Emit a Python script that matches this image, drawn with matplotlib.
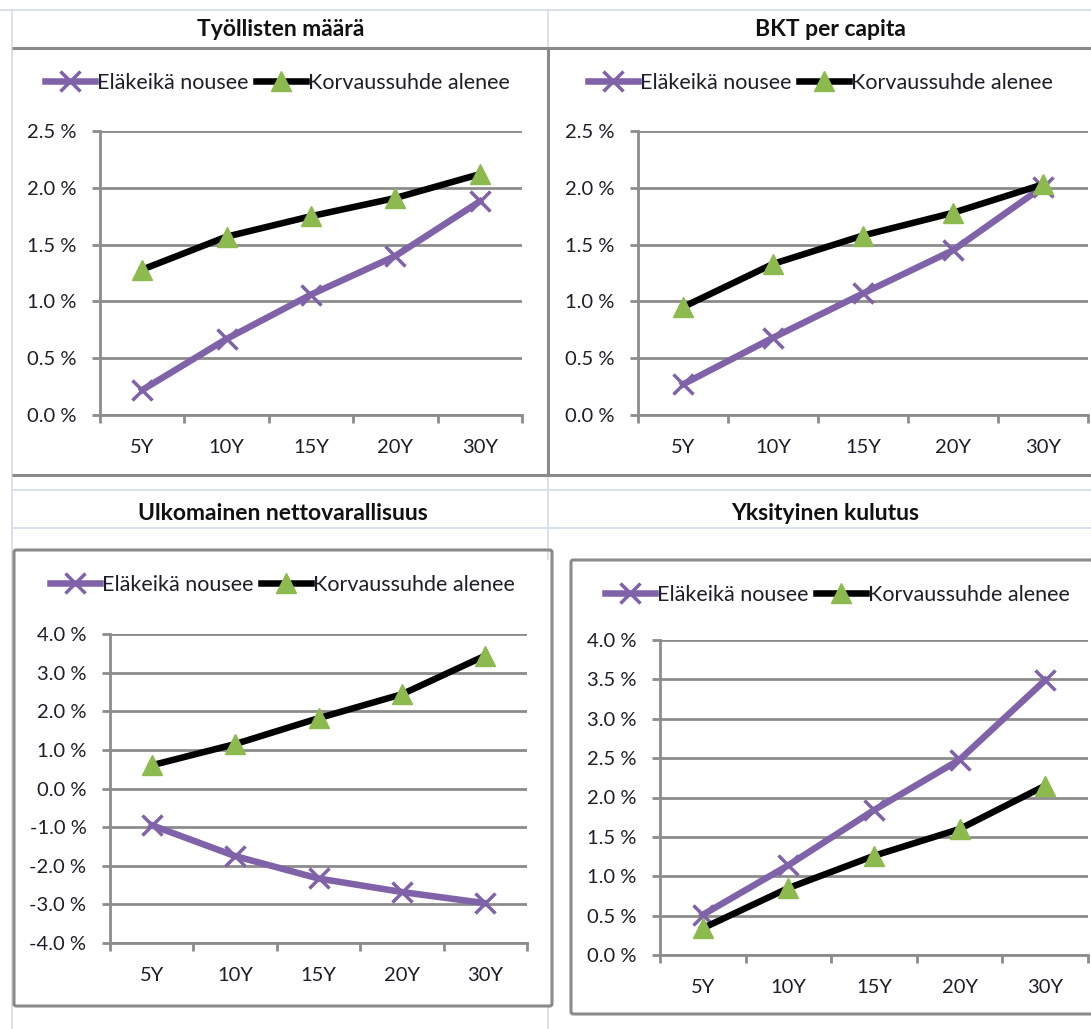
import matplotlib
matplotlib.use("Agg")
import matplotlib.pyplot as plt
from matplotlib.lines import Line2D
from matplotlib.patches import FancyBboxPatch
import numpy as np

plt.rcParams['font.family'] = ['Lato', 'DejaVu Sans']

categories = ["5Y", "10Y", "15Y", "20Y", "30Y"]
series_names = ["Eläkeikä nousee", "Korvaussuhde alenee"]

titles = ["Työllisten määrä", "BKT per capita",
          "Ulkomainen nettovarallisuus", "Yksityinen kulutus"]

tyolliset_elakeika = [0.22, 0.67, 1.06, 1.40, 1.88]
tyolliset_korvaus = [1.28, 1.57, 1.75, 1.91, 2.12]

bkt_elakeika = [0.27, 0.68, 1.07, 1.45, 2.01]
bkt_korvaus = [0.95, 1.33, 1.58, 1.78, 2.03]

ulko_elakeika = [-0.95, -1.75, -2.33, -2.68, -2.97]
ulko_korvaus = [0.60, 1.15, 1.82, 2.44, 3.44]

kulutus_elakeika = [0.51, 1.14, 1.84, 2.48, 3.49]
kulutus_korvaus = [0.34, 0.85, 1.26, 1.60, 2.15]

W, H = 1091, 1029
fig = plt.figure(figsize=(W / 100, H / 100), dpi=100)
fig.patch.set_facecolor("white")

def fx(x):
    return x / W

def fy(y):
    return 1 - y / H

SHEET = "#d4dbe8"
FRAME = "#8a8a8a"

def line(x0, y0, x1, y1, color, lw, z=0):
    fig.add_artist(Line2D([fx(x0), fx(x1)], [fy(y0), fy(y1)], color=color,
                          lw=lw, transform=fig.transFigure, zorder=z,
                          solid_capstyle="butt"))

# spreadsheet grid lines
line(0, 10, W, 10, SHEET, 1.2)
line(12, 10, 12, H, SHEET, 1.2)
line(548, 10, 548, 48, SHEET, 1.2)
line(12, 490, W, 490, SHEET, 1.2)
line(12, 528, W, 528, SHEET, 1.2)
line(548, 475, 548, 560, SHEET, 1.2)
line(548, 1006, 548, H, SHEET, 1.2)

# top chart frames
line(12, 48, W, 48, FRAME, 2.2, 1)
line(12, 475, W, 475, FRAME, 2.2, 1)
line(548, 48, 548, 475, FRAME, 2.2, 1)

# bottom chart frames
for (x0, y0, x1, y1) in [(14, 550, 552, 1006), (571, 560, 1100, 1014)]:
    fig.add_artist(FancyBboxPatch((fx(x0), fy(y1)), fx(x1) - fx(x0), fy(y0) - fy(y1),
                                  boxstyle="round,pad=0,rounding_size=0.002",
                                  transform=fig.transFigure, fill=False,
                                  edgecolor=FRAME, lw=2.2, zorder=1))

# titles
for t, (x, y) in zip(titles, [(281, 30), (830, 30), (283, 513), (825, 513)]):
    fig.text(fx(x), fy(y), t, ha="center", va="center", fontsize=16.5,
             fontweight="bold", color="#111111")

PURPLE = "#7f62a8"
GREEN = "#8cba4e"
GRID = "#8c8c8c"
TXT = "#1e1e2a"

panels = [
    dict(rect=(100, 131, 522, 415), e=tyolliset_elakeika, k=tyolliset_korvaus,
         ylim=(0, 2.5), step=0.5, leg=(45, 83)),
    dict(rect=(638, 131, 1088, 415), e=bkt_elakeika, k=bkt_korvaus,
         ylim=(0, 2.5), step=0.5, leg=(588, 83)),
    dict(rect=(110, 634, 527, 943), e=ulko_elakeika, k=ulko_korvaus,
         ylim=(-4, 4), step=1.0, leg=(50, 585)),
    dict(rect=(660, 640, 1088, 955), e=kulutus_elakeika, k=kulutus_korvaus,
         ylim=(0, 4), step=0.5, leg=(605, 595)),
]

x = np.arange(len(categories))
for p in panels:
    l, t, r, b = p["rect"]
    ax = fig.add_axes([fx(l), fy(b), fx(r) - fx(l), fy(t) - fy(b)])
    ax.set_facecolor("none")
    ax.set_xlim(-0.5, len(categories) - 0.5)
    ax.set_ylim(*p["ylim"])
    yt = np.arange(p["ylim"][0], p["ylim"][1] + 1e-9, p["step"])
    ax.set_yticks(yt)
    ax.set_yticklabels([f"{v:.1f} %" for v in yt])
    ax.set_xticks(x)
    ax.set_xticklabels(categories)
    ax.set_xticks(np.arange(-0.5, len(categories)), minor=True)
    ax.tick_params(axis="x", which="major", length=0, pad=17, labelsize=14.5,
                   labelcolor=TXT)
    ax.tick_params(axis="x", which="minor", length=6, width=2, color=GRID,
                   direction="out")
    ax.tick_params(axis="y", length=6, width=2, color=GRID, pad=11,
                   labelsize=14.5, labelcolor=TXT)
    for s in ["top", "right"]:
        ax.spines[s].set_visible(False)
    for s in ["left", "bottom"]:
        ax.spines[s].set_color(GRID)
        ax.spines[s].set_linewidth(2)
    ax.grid(axis="y", color=GRID, lw=2)
    ax.set_axisbelow(True)
    h1, = ax.plot(x, p["e"], color=PURPLE, lw=4.7, marker="x", ms=14,
                  mew=2.5, mec=PURPLE, clip_on=False, zorder=3,
                  label=series_names[0])
    h2, = ax.plot(x, p["k"], color="black", lw=4.7, marker="^", ms=14,
                  mfc=GREEN, mec=GREEN, clip_on=False, zorder=4,
                  label=series_names[1])
    lx, ly = p["leg"]
    fig.legend(handles=[h1, h2], loc="center left",
               bbox_to_anchor=(fx(lx), fy(ly)), ncol=2, frameon=False,
               fontsize=15.5, handlelength=2.3, handletextpad=0.12,
               columnspacing=0.35, borderpad=0, borderaxespad=0,
               labelcolor=TXT)

fig.savefig("out.png", dpi=100, facecolor="white")
